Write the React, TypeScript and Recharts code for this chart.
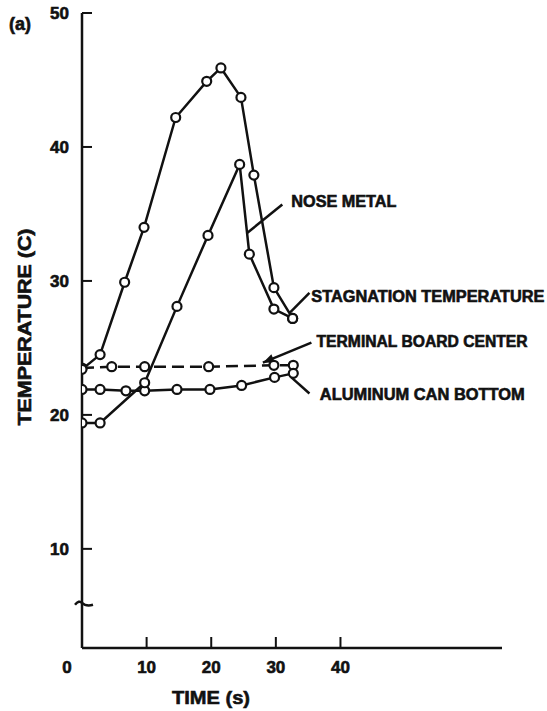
import { Line, LineChart, ReferenceDot, ReferenceLine, XAxis, YAxis } from "recharts";

// time (s) and temperature (C)
const stagTime = [0, 2.8, 6.6, 9.6, 14.5, 19.3, 21.5, 24.6, 26.6, 29.7, 32.6];
const stagTemp = [23.4, 24.5, 29.9, 34.0, 42.2, 44.9, 45.9, 43.7, 37.9, 29.5, 27.2];

const noseTime = [0, 2.8, 9.7, 14.7, 19.5, 24.4, 25.9, 29.7, 32.6];
const noseTemp = [19.4, 19.4, 22.4, 28.1, 33.4, 38.7, 32.0, 27.9, 27.2];

const boardTime = [0, 4.6, 9.7, 19.6, 29.7, 32.7];
const boardTemp = [23.5, 23.6, 23.6, 23.6, 23.7, 23.7];

const canTime = [0, 2.8, 6.8, 9.7, 14.7, 19.8, 24.7, 29.8, 32.7];
const canTemp = [21.9, 21.9, 21.8, 21.8, 21.9, 21.9, 22.2, 22.8, 23.1];

const xTicks = [0, 10, 20, 30, 40];
const yTicks = [10, 20, 30, 40, 50];

const zip = (t: number[], v: number[]) => t.map((x, i) => ({ t: x, v: v[i] }));

const FONT = "'Liberation Sans', Arial, sans-serif";
const INK = "#111";
// a bit of outline makes the lettering as heavy as the photocopied original
const heavy = { fontFamily: FONT, fontWeight: 700, fill: INK, stroke: INK, strokeWidth: 0.6 };

// label text, where the text starts, and the pointer line (all in data units)
const notes = [
  { text: "NOSE METAL", at: [32.4, 35.5], len: 105, from: [31.0, 35.7], to: [25.6, 33.6], arrow: false },
  { text: "STAGNATION TEMPERATURE", at: [35.5, 28.4], len: 233, from: [35.2, 29.1], to: [32.1, 27.6], arrow: false },
  { text: "TERMINAL BOARD CENTER", at: [36.3, 25.1], len: 211, from: [35.5, 25.4], to: [28.0, 23.9], arrow: true },
  { text: "ALUMINUM CAN BOTTOM", at: [36.8, 21.1], len: 205, from: [35.2, 21.6], to: [32.4, 22.8], arrow: false },
];

const XTick = (p: any) => {
  const v = p.payload.value;
  return (
    <g>
      {v !== 0 && <line x1={p.x} y1={p.y} x2={p.x} y2={p.y - 11} stroke={INK} strokeWidth={2} />}
      <text x={p.x + (v === 0 ? -15 : 0)} y={p.y + 25} textAnchor="middle" fontSize={17} {...heavy}>
        {v}
      </text>
    </g>
  );
};

const YTick = (p: any) => (
  <g>
    <line x1={p.x} y1={p.y} x2={p.x + 10} y2={p.y} stroke={INK} strokeWidth={2} />
    <text x={p.x - 13} y={p.y + 6} textAnchor="end" fontSize={17} {...heavy}>
      {p.payload.value}
    </text>
  </g>
);

const pointer = (arrow: boolean) => (p: any) => {
  const { x1, y1, x2, y2 } = p;
  const a = Math.atan2(y2 - y1, x2 - x1);
  const L = 11;
  const W = 4.5;
  const bx = x2 - L * Math.cos(a);
  const by = y2 - L * Math.sin(a);
  return (
    <g>
      <line x1={x1} y1={y1} x2={x2} y2={y2} stroke={INK} strokeWidth={2.5} />
      {arrow && (
        <polygon
          points={`${x2},${y2} ${bx + W * Math.sin(a)},${by - W * Math.cos(a)} ${bx - W * Math.sin(a)},${by + W * Math.cos(a)}`}
          fill={INK}
        />
      )}
    </g>
  );
};

// open circle marker; drawn by hand so the dashed series doesn't dash its circles
const Ring = (p: any) => {
  if (p.cx == null || p.cy == null) return <g key={p.key} />;
  return <circle key={p.key} cx={p.cx} cy={p.cy} r={4.5} fill="#fff" stroke={INK} strokeWidth={2.2} />;
};

export default function App() {
  return (
    <div style={{ position: "absolute", left: 0, top: 0, background: "#fff" }}>
      <LineChart width={547} height={711} margin={{ top: 13, right: 45, bottom: 0, left: 0 }}>
        <XAxis
          type="number"
          dataKey="t"
          domain={[0, 65]}
          ticks={xTicks}
          allowDataOverflow
          height={63}
          tickSize={0}
          tickMargin={0}
          tick={<XTick />}
          axisLine={{ stroke: INK, strokeWidth: 2.5 }}
          tickLine={false}
        />
        <YAxis
          type="number"
          domain={[2.6, 50]}
          ticks={yTicks}
          allowDataOverflow
          width={82}
          tickSize={0}
          tickMargin={0}
          tick={<YTick />}
          axisLine={{ stroke: INK, strokeWidth: 2.5 }}
          tickLine={false}
        />
        <Line data={zip(boardTime, boardTemp)} dataKey="v" stroke={INK} strokeWidth={2.5} strokeDasharray="12 6" dot={Ring} activeDot={false} isAnimationActive={false} />
        <Line data={zip(canTime, canTemp)} dataKey="v" stroke={INK} strokeWidth={2.5} dot={Ring} activeDot={false} isAnimationActive={false} />
        <Line data={zip(noseTime, noseTemp)} dataKey="v" stroke={INK} strokeWidth={2.5} dot={Ring} activeDot={false} isAnimationActive={false} />
        <Line data={zip(stagTime, stagTemp)} dataKey="v" stroke={INK} strokeWidth={2.5} dot={Ring} activeDot={false} isAnimationActive={false} />

        {notes.map((n) => (
          <ReferenceLine
            key={n.text + "-ptr"}
            segment={[
              { x: n.from[0], y: n.from[1] },
              { x: n.to[0], y: n.to[1] },
            ]}
            shape={pointer(n.arrow)}
          />
        ))}
        {notes.map((n) => (
          <ReferenceDot
            key={n.text}
            x={n.at[0]}
            y={n.at[1]}
            r={0}
            shape={(p: any) => (
              <text x={p.cx} y={p.cy} textLength={n.len} lengthAdjust="spacingAndGlyphs" fontSize={16} {...heavy}>
                {n.text}
              </text>
            )}
          />
        ))}
        {/* axis break mark */}
        <ReferenceDot
          x={0}
          y={5.9}
          r={0}
          shape={(p: any) => (
            <path
              d={`M${p.cx - 7},${p.cy + 1} Q${p.cx - 3},${p.cy - 4} ${p.cx},${p.cy - 1} Q${p.cx + 4},${p.cy + 3} ${p.cx + 11},${p.cy + 1}`}
              fill="none"
              stroke={INK}
              strokeWidth={2.5}
            />
          )}
        />

        <text x={9} y={30} fontSize={18} {...heavy}>
          (a)
        </text>
        <text
          x={0}
          y={0}
          transform="translate(31 327) rotate(-90)"
          textAnchor="middle"
          textLength={197}
          lengthAdjust="spacingAndGlyphs"
          fontSize={18}
          {...heavy}
        >
          TEMPERATURE (C)
        </text>
        <text x={211} y={704} textAnchor="middle" textLength={78} lengthAdjust="spacingAndGlyphs" fontSize={19} {...heavy}>
          TIME (s)
        </text>
      </LineChart>
    </div>
  );
}
